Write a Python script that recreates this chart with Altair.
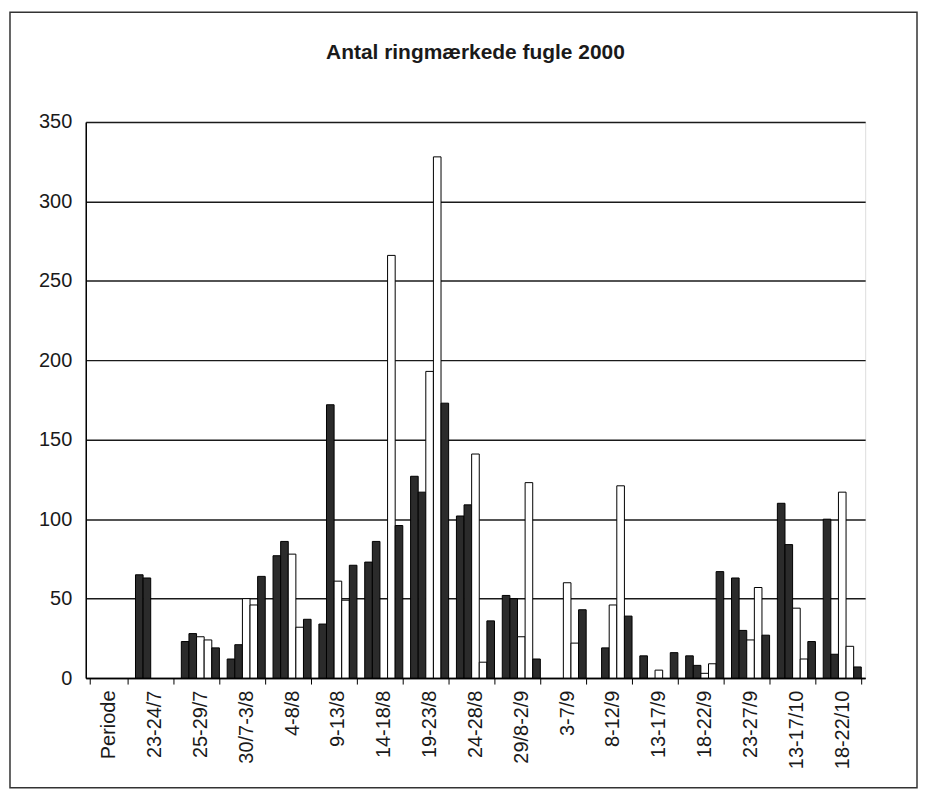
import altair as alt
import pandas as pd

categories = ["Periode", "23-24/7", "25-29/7", "30/7-3/8", "4-8/8", "9-13/8",
              "14-18/8", "19-23/8", "24-28/8", "29/8-2/9", "3-7/9", "8-12/9",
              "13-17/9", "18-22/9", "23-27/9", "13-17/10", "18-22/10"]

dag1 = [None, 65, 23, 12, 77, 34, 73, 127, 102, 52, None, None, 14, 14, 63, 110, 100]
dag2 = [None, 63, 28, 21, 86, 172, 86, 117, 109, 50, None, 19, None, 8, 30, 84, 15]
dag3 = [None, None, 26, 50, 78, 61, None, 193, 141, 26, 60, 46, 5, 3, 24, 44, 117]
dag4 = [None, None, 24, 46, 32, 49, 266, 328, 10, 123, 22, 121, None, 9, 57, 12, 20]
dag5 = [None, None, 19, 64, 37, 71, 96, 173, 36, 12, 43, 39, 16, 67, 27, 23, 7]

series = [dag1, dag2, dag3, dag4, dag5]
series_ids = [1, 2, 3, 4, 5]
series_colors = ["#2b2b2b", "#2b2b2b", "#ffffff", "#ffffff", "#2b2b2b"]

rows = []
for sid, vals in zip(series_ids, series):
    for cat, v in zip(categories, vals):
        if v is not None:
            rows.append({"Periode": cat, "Dag": sid, "Antal": v})
df = pd.DataFrame(rows)

FONT = "Liberation Sans"

bars = alt.Chart(df).mark_bar(stroke="black", strokeWidth=1).encode(
    x=alt.X("Periode:N", sort=categories,
            scale=alt.Scale(domain=categories, paddingInner=0.17, paddingOuter=0.085),
            axis=alt.Axis(title=None, labelAngle=-90, labelFontSize=20, labelFont=FONT,
                          labelColor="#1a1a1a", labelPadding=6, tickBand="extent",
                          tickSize=6, tickColor="black", domainColor="black",
                          domainWidth=1.5, grid=False)),
    xOffset=alt.XOffset("Dag:O", scale=alt.Scale(domain=series_ids, paddingInner=0, paddingOuter=0)),
    y=alt.Y("Antal:Q", scale=alt.Scale(domain=[0, 350], nice=False),
            axis=alt.Axis(title=None, values=[0, 50, 100, 150, 200, 250, 300, 350],
                          labelFontSize=20, labelFont=FONT, labelColor="#1a1a1a",
                          labelPadding=14, tickSize=0, domainColor="black", domainWidth=1.5,
                          grid=True, gridColor="#1a1a1a", gridWidth=1.5)),
    color=alt.Color("Dag:O", scale=alt.Scale(domain=series_ids, range=series_colors), legend=None),
)

frame = alt.Chart(pd.DataFrame({"a": [0]})).mark_rect(
    fill=None, stroke="#333333", strokeWidth=1.5
).encode(
    x=alt.value(-76), x2=alt.value(834), y=alt.value(-110), y2=alt.value(668)
)

chart = alt.layer(frame, bars).properties(
    width=782, height=558,
    padding={"left": 1, "top": 2, "right": 0, "bottom": 0},
    title=alt.TitleParams("Antal ringmærkede fugle 2000", fontSize=21, font=FONT,
                          fontWeight="bold", color="#1a1a1a", anchor="middle",
                          baseline="alphabetic", offset=-69),
).configure_view(stroke="black", strokeWidth=1.5).configure(background="white")

chart.save("out.html", embed_options={"renderer": "svg", "actions": False})
